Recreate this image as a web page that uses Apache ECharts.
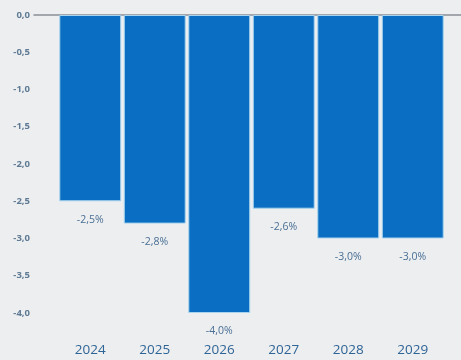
<!DOCTYPE html>
<html>
<head>
<meta charset="utf-8">
<style>
  html, body { margin: 0; padding: 0; background: #eceef0; }
  #chart { width: 461px; height: 360px; }
</style>
<script src="https://cdn.jsdelivr.net/npm/echarts@6/dist/echarts.min.js"></script>
</head>
<body>
<div id="chart"></div>
<script>
// Years and balance values (percent)
const years = ['2024', '2025', '2026', '2027', '2028', '2029'];
const values = [-2.5, -2.8, -4.0, -2.6, -3.0, -3.0];

const fmt = (v, digits) => v.toFixed(digits).replace('.', ',');

const chart = echarts.init(document.getElementById('chart'));
chart.setOption({
  backgroundColor: '#eceef0',
  animation: false,
  grid: [
    { left: 58, right: 16, top: 15, bottom: 47 },
    { left: 34, right: 0, top: 15, bottom: 47 }
  ],
  xAxis: [
    {
      type: 'category', data: years, gridIndex: 0, position: 'bottom',
      axisLine: { show: false }, axisTick: { show: false },
      axisLabel: {
        margin: 30, color: '#2f6496', fontSize: 13.5,
        fontFamily: 'Open Sans', fontWeight: 500
      }
    },
    {
      type: 'category', data: [''], gridIndex: 1, position: 'top',
      axisLine: { show: true, lineStyle: { color: '#8a8f96', width: 1.5 } },
      axisTick: { show: false }, axisLabel: { show: false }
    }
  ],
  yAxis: [
    {
      type: 'value', gridIndex: 0, min: -4, max: 0, interval: 0.5,
      splitLine: { show: false }, axisLine: { show: false }, axisTick: { show: false },
      axisLabel: {
        margin: 28, color: '#5f7a94', fontSize: 9.5, fontWeight: 'bold',
        fontFamily: 'Open Sans', padding: [4, 0, 0, 0],
        formatter: v => fmt(v, 1)
      }
    },
    {
      type: 'value', gridIndex: 1, min: -4, max: 0, show: false
    }
  ],
  series: [
    {
      type: 'bar', data: values, xAxisIndex: 0, yAxisIndex: 0,
      barCategoryGap: '4%',
      itemStyle: { color: '#0a6ec2', borderColor: '#a8d4ee', borderWidth: 1 },
      label: {
        show: true, position: 'bottom', distance: 13,
        color: '#4a6f95', fontSize: 10.5, fontFamily: 'Open Sans',
        formatter: p => fmt(p.value, 1) + '%'
      }
    }
  ]
});
</script>
</body>
</html>
